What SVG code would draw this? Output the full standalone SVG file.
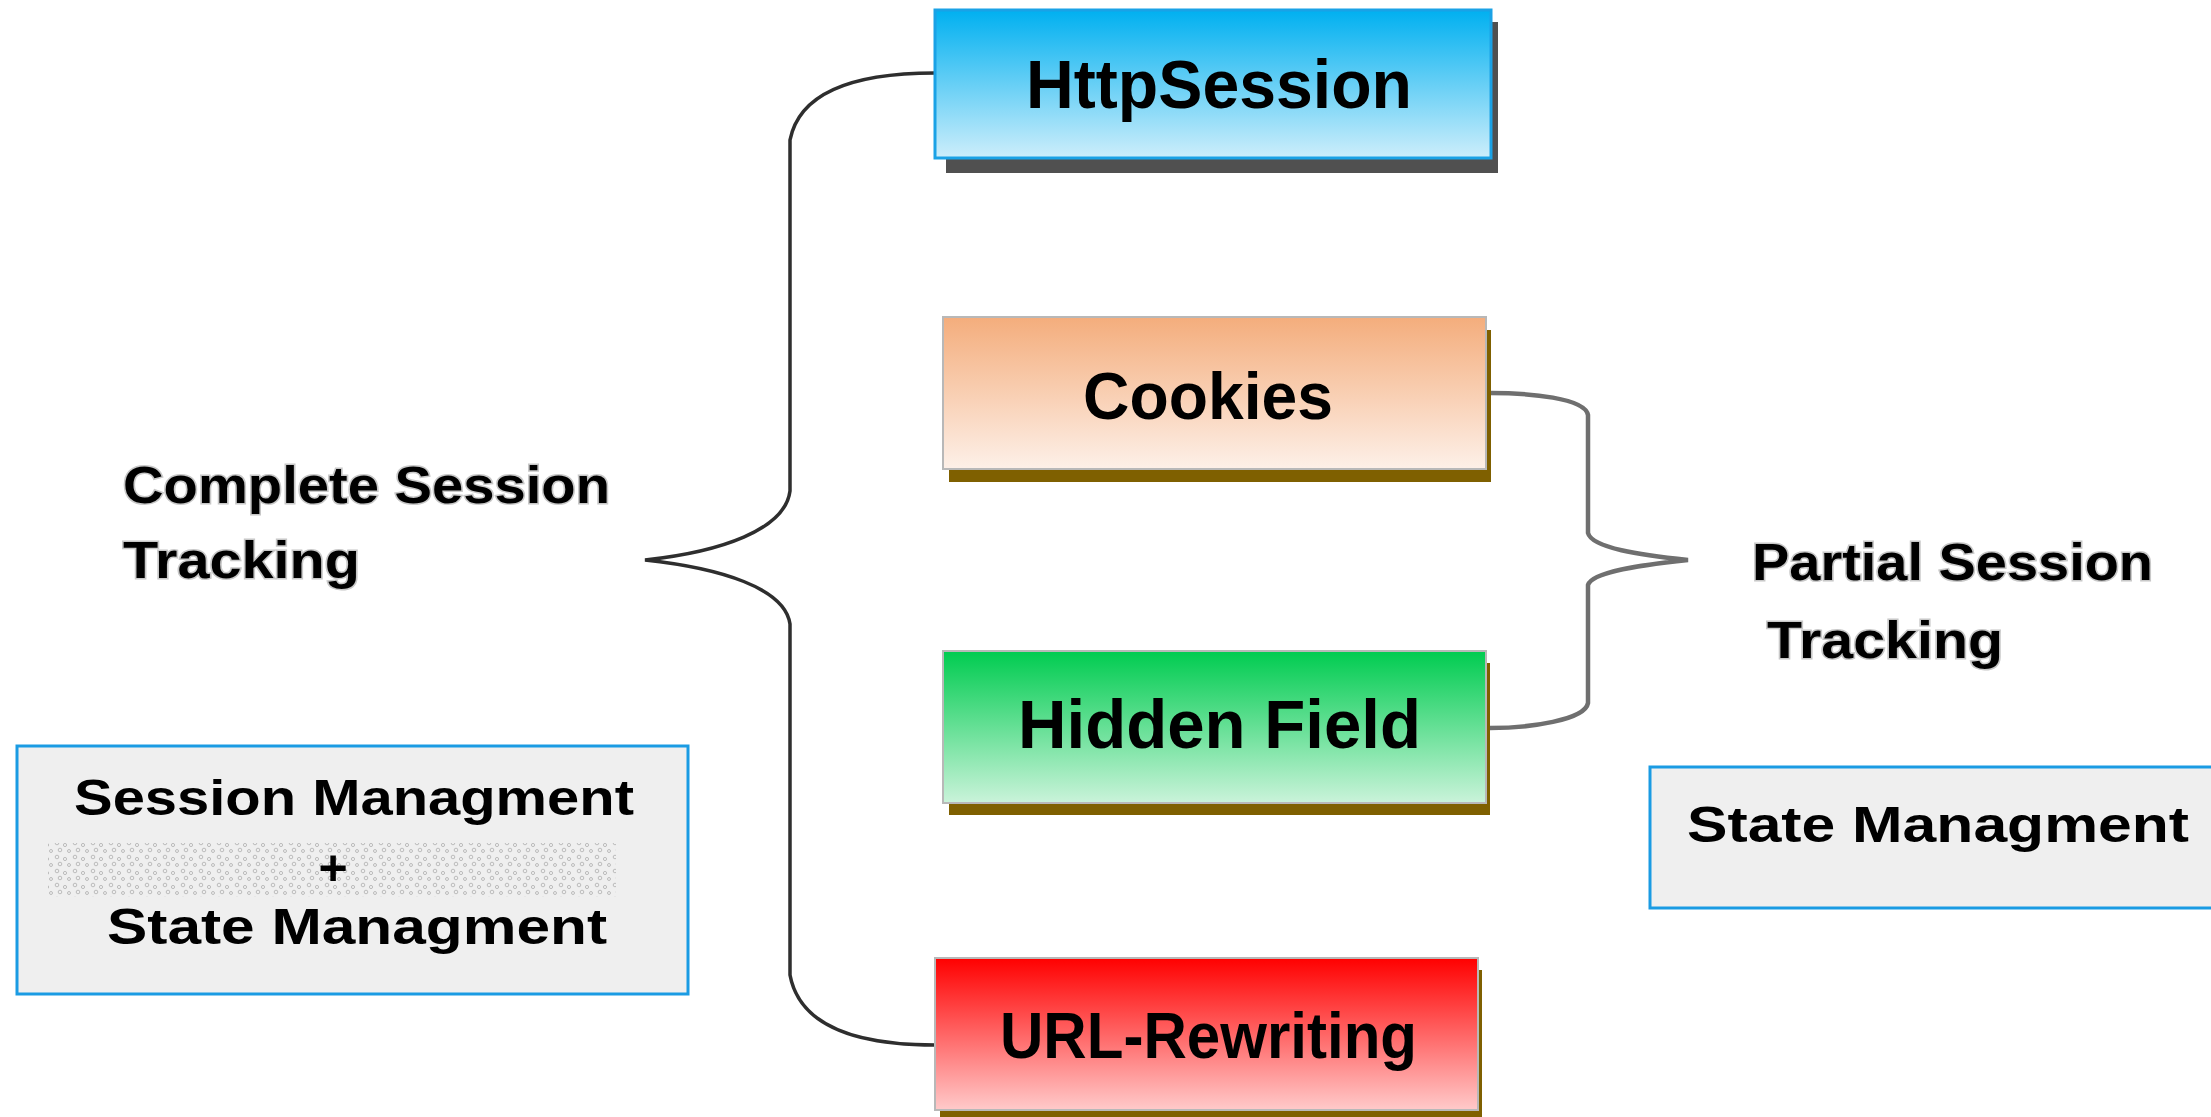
<svg xmlns="http://www.w3.org/2000/svg" width="2211" height="1117" viewBox="0 0 2211 1117">
  <style>
    .t { font-family: "Liberation Sans", Arial, sans-serif; font-weight: bold; fill: #000; }
    .lbl { font-family: "Liberation Sans", Arial, sans-serif; font-weight: bold; fill: #000; stroke: #c8c8c8; stroke-width: 3; paint-order: stroke; }
    .box { stroke: #b8b8b8; stroke-width: 2; }
    .shadow-brown { fill: #7f6000; }
    .note { fill: #efefef; stroke: #1a9be3; stroke-width: 3; }
    .brace-l { fill: none; stroke: #2e2e2e; stroke-width: 3.5; }
    .brace-r { fill: none; stroke: #6f6f6f; stroke-width: 4.5; }
  </style>
  <defs>
    <linearGradient id="gBlue" x1="0" y1="0" x2="0" y2="1">
      <stop offset="0" stop-color="#00b0f0"/>
      <stop offset="1" stop-color="#cdeefb"/>
    </linearGradient>
    <linearGradient id="gPeach" x1="0" y1="0" x2="0" y2="1">
      <stop offset="0" stop-color="#f4ad7c"/>
      <stop offset="1" stop-color="#fdf0e8"/>
    </linearGradient>
    <linearGradient id="gGreen" x1="0" y1="0" x2="0" y2="1">
      <stop offset="0" stop-color="#00cc50"/>
      <stop offset="1" stop-color="#caf3da"/>
    </linearGradient>
    <linearGradient id="gRed" x1="0" y1="0" x2="0" y2="1">
      <stop offset="0" stop-color="#ff0000"/>
      <stop offset="1" stop-color="#ffcaca"/>
    </linearGradient>
    <pattern id="noise" x="0" y="0" width="18" height="14" patternUnits="userSpaceOnUse">
      <circle cx="3" cy="3" r="1.8" fill="none" stroke="#b5b5b5" stroke-width="0.9"/>
      <circle cx="11" cy="5" r="1.6" fill="none" stroke="#b5b5b5" stroke-width="0.9"/>
      <circle cx="6" cy="10" r="1.8" fill="none" stroke="#b5b5b5" stroke-width="0.9"/>
      <circle cx="15" cy="11" r="1.5" fill="none" stroke="#b5b5b5" stroke-width="0.9"/>
    </pattern>
  </defs>

  <rect width="2211" height="1117" fill="#ffffff"/>

  <g id="connectors">
    <path class="brace-l" d="M935,73 C860,73 800,90 790,140 L790,491 C785,530 720,552 645,560 C720,568 785,588 790,624 L790,975 C800,1028 860,1045 935,1045"/>
    <path class="brace-r" d="M1490,393 C1530,393 1585,398 1588,415 L1588,533 C1592,548 1640,555 1688,560 C1640,565 1592,572 1588,585 L1588,703 C1585,720 1530,728 1490,728"/>
  </g>

  <g id="httpsession">
    <rect x="946" y="22" width="552" height="151" fill="#505050"/>
    <rect x="935" y="10" width="556" height="148" fill="url(#gBlue)" stroke="#1aa2e6" stroke-width="3"/>
    <text class="t" x="1026" y="108" font-size="68" textLength="386" lengthAdjust="spacingAndGlyphs">HttpSession</text>
  </g>

  <g id="cookies">
    <rect class="shadow-brown" x="949" y="330" width="542" height="152"/>
    <rect class="box" x="943" y="317" width="543" height="152" fill="url(#gPeach)"/>
    <text class="t" x="1083" y="419" font-size="66" textLength="250" lengthAdjust="spacingAndGlyphs">Cookies</text>
  </g>

  <g id="hidden-field">
    <rect class="shadow-brown" x="949" y="663" width="541" height="152"/>
    <rect class="box" x="943" y="651" width="543" height="152" fill="url(#gGreen)"/>
    <text class="t" x="1018" y="748" font-size="68" textLength="403" lengthAdjust="spacingAndGlyphs">Hidden Field</text>
  </g>

  <g id="url-rewriting">
    <rect class="shadow-brown" x="940" y="970" width="542" height="152"/>
    <rect class="box" x="935" y="958" width="543" height="152" fill="url(#gRed)"/>
    <text class="t" x="1000" y="1058" font-size="64" textLength="417" lengthAdjust="spacingAndGlyphs">URL-Rewriting</text>
  </g>

  <g id="complete-label">
    <text class="lbl" x="123" y="503" font-size="52" textLength="487" lengthAdjust="spacingAndGlyphs">Complete Session</text>
    <text class="lbl" x="123" y="578" font-size="52" textLength="237" lengthAdjust="spacingAndGlyphs">Tracking</text>
  </g>

  <g id="partial-label">
    <text class="lbl" x="1752" y="580" font-size="52" textLength="401" lengthAdjust="spacingAndGlyphs">Partial Session</text>
    <text class="lbl" x="1767" y="658" font-size="52" textLength="236" lengthAdjust="spacingAndGlyphs">Tracking</text>
  </g>

  <g id="session-state-note">
    <rect class="note" x="17" y="746" width="671" height="248"/>
    <rect x="48" y="843" width="568" height="54" fill="url(#noise)"/>
    <text class="t" x="74" y="815" font-size="50" textLength="560" lengthAdjust="spacingAndGlyphs">Session Managment</text>
    <text class="t" x="333" y="885" font-size="50" text-anchor="middle">+</text>
    <text class="t" x="107" y="944" font-size="50" textLength="500" lengthAdjust="spacingAndGlyphs">State Managment</text>
  </g>

  <g id="state-note">
    <rect class="note" x="1650" y="767" width="600" height="141"/>
    <text class="t" x="1687" y="842" font-size="50" textLength="502" lengthAdjust="spacingAndGlyphs">State Managment</text>
  </g>
</svg>
